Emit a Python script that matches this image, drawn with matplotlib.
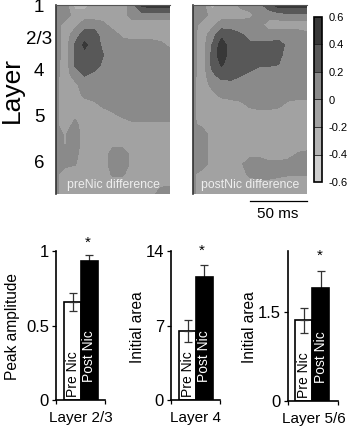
import matplotlib
matplotlib.use('Agg')
import matplotlib.pyplot as plt
from matplotlib.colors import ListedColormap, BoundaryNorm
import numpy as np

plt.rcParams['font.family'] = ['Liberation Sans', 'DejaVu Sans']

W, H = 347, 428

levels = [-0.6, -0.4, -0.2, 0, 0.2, 0.4, 0.6]
band_colors = ['#cfcfcf', '#b4b4b4', '#a2a2a2', '#8a8a8a', '#585858', '#383838']
cbar_labels = ['-0.6', '-0.4', '-0.2', '0', '0.2', '0.4', '0.6']

# difference maps: rows go down the layers, columns go along time
pre_diff = [
    [.1, .1, -.3, -.3, -.1, -.1, -.1, -.1, .1, .45, .5, .5, .5],
    [.1, .1, -.1, -.1, -.1, -.1, -.1, -.1, .1, .1, .1, .1, .1],
    [.1, -.1, -.05, .1, .1, .05, -.1, -.1, -.1, -.1, -.1, -.1, -.1],
    [.1, -.1, .1, .3, .3, .1, .1, -.05, -.1, -.1, -.1, -.1, -.1],
    [.1, -.1, .22, .44, .3, .15, .1, .1, .1, .1, .1, .05, -.05],
    [.1, -.1, .22, .35, .3, .2, .1, .1, .1, .1, .1, .1, .1],
    [.05, -.1, .22, .3, .3, .15, .1, .1, .1, .1, .1, .1, .1],
    [.05, -.1, .1, .22, .15, .1, .1, .1, .1, .1, .1, .1, .1],
    [.03, -.1, -.05, .1, .1, .1, .1, .1, .1, .1, .1, .1, .1],
    [.03, -.1, -.1, .05, .1, .1, .1, .1, .1, .1, .1, .1, .1],
    [.03, -.1, -.1, -.1, -.05, .05, .1, .1, .1, .1, .1, .1, .1],
    [.03, -.1, -.05, -.1, -.1, -.1, -.03, .05, .1, .1, .1, .1, .1],
    [.03, -.1, .05, -.1, -.1, -.1, -.1, -.1, -.05, -.05, -.05, -.05, -.05],
    [.03, -.01, .1, -.1, -.1, -.1, -.1, -.1, -.1, -.1, -.1, -.1, -.1],
    [.03, -.01, .1, -.1, -.1, -.1, -.05, -.05, -.1, -.1, -.1, -.1, -.1],
    [.03, .05, .05, -.1, -.1, -.1, .1, .1, -.05, -.1, -.1, -.05, -.05],
    [.03, .05, .01, -.1, -.1, -.1, .1, .1, -.05, -.1, -.1, -.1, -.1],
    [.03, -.1, -.1, -.1, -.1, -.1, .03, .03, -.1, -.1, -.1, -.1, -.1],
    [.03, -.1, -.1, -.1, -.1, -.1, -.1, -.1, -.1, -.1, -.1, -.05, -.03],
    [.03, -.1, -.1, -.1, -.1, -.1, -.1, -.1, -.1, -.1, -.1, .1, .1],
]
post_diff = [
    [.1, .1, -.3, -.1, -.1, .05, .1, .15, .3, .5, .5, .5, .5],
    [.1, .1, -.1, -.1, -.1, -.1, -.05, .1, .1, .1, .15, .15, .15],
    [.1, -.1, -.05, .1, .1, .1, .1, .05, -.1, -.1, -.1, -.1, -.1],
    [.05, -.1, .1, .35, .3, .22, .15, .1, .1, .1, .1, .1, .05],
    [.05, -.1, .2, .5, .3, .25, .22, .25, .25, .28, .15, .1, .1],
    [.05, -.1, .25, .52, .3, .3, .3, .3, .3, .25, .12, .1, .1],
    [.05, -.1, .25, .42, .3, .3, .3, .22, .22, .2, .1, .1, .1],
    [.05, -.1, .15, .3, .3, .22, .15, .1, .1, .1, .1, .1, .1],
    [.03, -.1, .05, .1, .12, .1, .1, .1, .1, .1, .1, .1, .1],
    [.03, -.1, -.05, .05, .1, .1, .1, .1, .1, .1, .1, .1, .1],
    [.03, -.1, -.1, -.1, -.1, -.05, .05, .05, .05, .05, -.05, -.1, -.1],
    [.03, -.1, -.1, -.1, -.1, -.1, -.1, -.05, -.05, -.1, -.1, -.1, -.1],
    [.03, -.05, -.1, -.1, -.1, -.1, -.1, -.1, -.1, -.1, -.1, -.1, -.1],
    [.03, .1, -.1, -.1, -.1, -.1, -.1, -.1, -.1, -.1, -.1, -.1, -.1],
    [.03, .1, -.1, -.1, -.1, -.1, -.1, -.1, -.1, -.1, -.1, -.1, -.1],
    [.03, .1, -.1, -.1, -.1, -.1, -.05, -.05, -.1, -.1, -.1, .02, .05],
    [.03, .1, -.1, -.1, -.1, -.03, .1, .1, .05, .05, .1, .1, .1],
    [.03, -.1, -.1, -.1, -.1, -.1, .05, .1, .1, .05, .02, .02, .02],
    [.03, -.1, -.1, -.1, -.1, -.1, -.1, -.1, -.1, -.1, -.1, -.1, -.1],
    [.03, -.1, -.1, -.1, -.1, -.1, -.1, -.1, -.1, -.1, -.1, -.1, -.1],
]

layer_names = ['1', '2/3', '4', '5', '6']
layer_rows = [8, 40, 71, 118, 163]

bar_names = ['Pre Nic', 'Post Nic']
peak_vals = [0.66, 0.93]
peak_err = [0.06, 0.04]
peak_ticks = [0, 0.5, 1]
peak_labels = ['0', '0.5', '1']
area4_vals = [6.47, 11.56]
area4_err = [1.0, 1.15]
area4_ticks = [0, 7, 14]
area56_vals = [1.36, 1.9]
area56_err = [0.21, 0.29]
area56_ticks = [0, 1.5]


def px_axes(x0, y0, x1, y1):
    return fig.add_axes([x0 / W, 1 - y1 / H, (x1 - x0) / W, (y1 - y0) / H])


def px_text(x, y, s, **kw):
    fig.text(x / W, 1 - y / H, s, ha=kw.pop('ha', 'center'), va=kw.pop('va', 'center'), **kw)


fig = plt.figure(figsize=(W / 100, H / 100), dpi=100)
cmap = ListedColormap(band_colors)
norm = BoundaryNorm(levels, cmap.N)


def draw_map(box, values, label):
    ax = px_axes(*box)
    z = np.array(values)
    cs = ax.contourf(np.arange(z.shape[1]), np.arange(z.shape[0]), z, levels=levels, cmap=cmap, norm=norm)
    ax.invert_yaxis()
    ax.set_xticks([])
    ax.set_yticks([])
    for s in ax.spines.values():
        s.set_visible(False)
    ax.spines['left'].set_visible(True)
    ax.spines['left'].set_color('#333333')
    ax.spines['left'].set_linewidth(1.2)
    ax.spines['top'].set_visible(True)
    ax.spines['top'].set_color('#555555')
    ax.spines['top'].set_linewidth(0.8)
    ax.text(0.5, 0.05, label, transform=ax.transAxes, ha='center', va='center', color='#eeeeee', fontsize=8.8)
    return cs


draw_map((56, 5, 170, 194), pre_diff, 'preNic difference')
cs = draw_map((193, 5, 307, 194), post_diff, 'postNic difference')

cax = px_axes(314, 17, 322, 182)
cb = fig.colorbar(cs, cax=cax, drawedges=True)
cb.set_ticks(levels)
cb.set_ticklabels(cbar_labels)
cb.ax.tick_params(length=0, labelsize=8, pad=5)
cb.outline.set_linewidth(1.2)
cb.dividers.set_linewidth(0.6)
cb.dividers.set_color('#222222')

px_text(12, 90, 'Layer', rotation=90, fontsize=19)
for name, y in zip(layer_names, layer_rows):
    px_text(39, y, name, fontsize=13.5)

fig.add_artist(plt.Line2D([250 / W, 307 / W], [1 - 201 / H, 1 - 201 / H], color='black', lw=0.9))
px_text(278, 214, '50 ms', fontsize=11)


def draw_bars(box, vals, errs, ymax, ticks, tlabels, xr, ylabel, xlabel, ylabel_x, xlabel_y, star):
    ax = px_axes(*box)
    ax.bar([0, 1], vals, width=1, color=['white', 'black'], edgecolor='black', linewidth=1.2, zorder=2)
    ax.errorbar([0, 1], vals, yerr=errs, fmt='none', ecolor='#333333', elinewidth=0.9, capsize=3, capthick=0.9, zorder=1)
    ax.errorbar([0], vals[:1], yerr=[errs[:1], [0]], fmt='none', ecolor='#333333', elinewidth=0.9, capsize=3, capthick=0.9, zorder=3)
    ax.set_xlim(*xr)
    ax.set_ylim(0, ymax)
    ax.spines['top'].set_visible(False)
    ax.spines['right'].set_visible(False)
    ax.spines['left'].set_linewidth(1.2)
    ax.spines['bottom'].set_linewidth(1.2)
    ax.set_yticks(ticks)
    ax.set_yticklabels(tlabels, fontsize=12)
    ax.set_xticks(list(xr))
    ax.set_xticklabels([])
    ax.tick_params(axis='both', length=3, width=0.9, pad=2)
    ax.text(0.03, ymax * 0.018, bar_names[0], rotation=90, ha='center', va='bottom', fontsize=10, color='black', zorder=4)
    ax.text(1.0, ymax * 0.12, bar_names[1], rotation=90, ha='center', va='bottom', fontsize=10, color='white', zorder=4)
    px_text(ylabel_x, 327, ylabel, rotation=90, fontsize=11.2)
    px_text((box[0] + box[2]) / 2 + 0.5, xlabel_y, xlabel, fontsize=11)
    px_text(star[0], star[1], '*', fontsize=11)


draw_bars((56, 251, 105, 400), peak_vals, peak_err, 1, peak_ticks, peak_labels, (-1.0, 1.95),
          'Peak amplitude', 'Layer 2/3', 12, 418, (88, 243))
draw_bars((171, 251, 220, 400), area4_vals, area4_err, 14, area4_ticks, ['0', '7', '14'], (-1.0, 1.95),
          'Initial area', 'Layer 4', 137, 418, (202, 251))
draw_bars((288, 251, 338, 401), area56_vals, area56_err, 2.53, area56_ticks, ['0', '1.5'], (-0.9, 2.0),
          'Initial area', 'Layer 5/6', 249, 419, (320, 256))

fig.savefig('out.png', dpi=100)
